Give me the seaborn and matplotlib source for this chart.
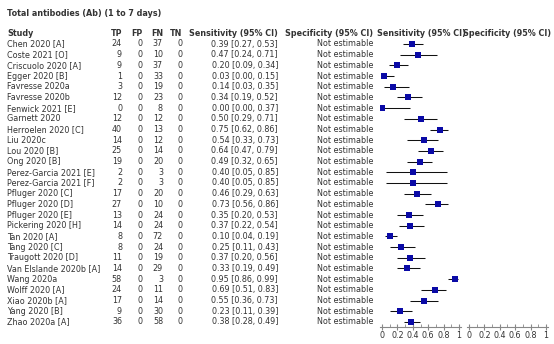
import matplotlib
matplotlib.use("Agg")
import matplotlib.pyplot as plt
import seaborn as sns
import pandas as pd
from matplotlib.ticker import MultipleLocator

studies = ["Chen 2020 [A]", "Coste 2021 [O]", "Criscuolo 2020 [A]", "Egger 2020 [B]",
           "Favresse 2020a", "Favresse 2020b", "Fenwick 2021 [E]", "Garnett 2020",
           "Herroelen 2020 [C]", "Liu 2020c", "Lou 2020 [B]", "Ong 2020 [B]",
           "Perez-Garcia 2021 [E]", "Perez-Garcia 2021 [F]", "Pfluger 2020 [C]",
           "Pfluger 2020 [D]", "Pfluger 2020 [E]", "Pickering 2020 [H]", "Tan 2020 [A]",
           "Tang 2020 [C]", "Traugott 2020 [D]", "Van Elslande 2020b [A]", "Wang 2020a",
           "Wolff 2020 [A]", "Xiao 2020b [A]", "Yang 2020 [B]", "Zhao 2020a [A]"]
tp = [24, 9, 9, 1, 3, 12, 0, 12, 40, 14, 25, 19, 2, 2, 17, 27, 13, 14, 8, 8, 11, 14, 58, 24, 17, 9, 36]
fp = [0] * 27
fn = [37, 10, 37, 33, 19, 23, 8, 12, 13, 12, 14, 20, 3, 3, 20, 10, 24, 24, 72, 24, 19, 29, 3, 11, 14, 30, 58]
tn = [0] * 27
sens = [0.39, 0.47, 0.20, 0.03, 0.14, 0.34, 0.00, 0.50, 0.75, 0.54, 0.64, 0.49, 0.40, 0.40,
        0.46, 0.73, 0.35, 0.37, 0.10, 0.25, 0.37, 0.33, 0.95, 0.69, 0.55, 0.23, 0.38]
sens_lo = [0.27, 0.24, 0.09, 0.00, 0.03, 0.19, 0.00, 0.29, 0.62, 0.33, 0.47, 0.32, 0.05, 0.05,
           0.29, 0.56, 0.20, 0.22, 0.04, 0.11, 0.20, 0.19, 0.86, 0.51, 0.36, 0.11, 0.28]
sens_hi = [0.53, 0.71, 0.34, 0.15, 0.35, 0.52, 0.37, 0.71, 0.86, 0.73, 0.79, 0.65, 0.85, 0.85,
           0.63, 0.86, 0.53, 0.54, 0.19, 0.43, 0.56, 0.49, 0.99, 0.83, 0.73, 0.39, 0.49]
title = "Total antibodies (Ab) (1 to 7 days)"

df = pd.DataFrame({"study": studies, "TP": tp, "FP": fp, "FN": fn, "TN": tn,
                   "sens": sens, "lo": sens_lo, "hi": sens_hi})
df["row"] = range(len(df))

W, H = 554, 344
fig = plt.figure(figsize=(W / 100, H / 100), dpi=100)
txt = "#333333"
fs = 5.8

def px(x, y):
    return x / W, 1 - y / H

row0, dy = 44, 10.69

fig.text(*px(7, 13), title, fontsize=fs, fontweight="bold", color=txt, va="center", ha="left")
heads = [(7, "Study", "left"), (122, "TP", "right"), (143, "FP", "right"), (163, "FN", "right"),
         (182, "TN", "right"), (278, "Sensitivity (95% CI)", "right"),
         (373, "Specificity (95% CI)", "right"), (377, "Sensitivity (95% CI)", "left"),
         (463, "Specificity (95% CI)", "left")]
for x, s, ha in heads:
    fig.text(*px(x, 33), s, fontsize=fs, fontweight="bold", color=txt, va="center", ha=ha)

for i, r in df.iterrows():
    y = row0 + dy * i
    fig.text(*px(7, y), r["study"], fontsize=fs, color=txt, va="center", ha="left")
    for x, c in [(122, "TP"), (143, "FP"), (163, "FN"), (182, "TN")]:
        fig.text(*px(x, y), str(r[c]), fontsize=fs, color=txt, va="center", ha="right")
    fig.text(*px(278, y), f"{r['sens']:.2f} [{r['lo']:.2f}, {r['hi']:.2f}]",
             fontsize=fs, color=txt, va="center", ha="right")
    fig.text(*px(373, y), "Not estimable", fontsize=fs, color=txt, va="center", ha="right")

# forest axes: data 0..1 maps to pixel span
top_px, bot_px = 38, 327
ylim = ((bot_px - row0) / dy, (top_px - row0) / dy)

def forest_axes(x0, x1):
    span = x1 - x0
    left = x0 - 0.02 * span
    right = x1 + 0.03 * span
    ax = fig.add_axes([left / W, 1 - bot_px / H, (right - left) / W, (bot_px - top_px) / H])
    ax.set_xlim(-0.02, 1.03)
    ax.set_ylim(*ylim)
    ax.patch.set_alpha(0)
    for s in ["top", "left", "right"]:
        ax.spines[s].set_visible(False)
    ax.spines["bottom"].set_color("#888888")
    ax.spines["bottom"].set_linewidth(0.8)
    ax.set_yticks([])
    ax.xaxis.set_major_locator(MultipleLocator(0.2))
    ax.xaxis.set_minor_locator(MultipleLocator(0.1))
    ax.set_xticks([0, 0.2, 0.4, 0.6, 0.8, 1.0])
    ax.set_xticklabels(["0", "0.2", "0.4", "0.6", "0.8", "1"])
    ax.tick_params(axis="x", which="major", direction="inout", length=5, width=0.8,
                   color="#888888", labelsize=fs, labelcolor=txt, pad=0.5)
    ax.tick_params(axis="x", which="minor", direction="in", length=2, width=0.6, color="#888888")
    ax.set_xlabel("")
    ax.set_ylabel("")
    return ax

ax1 = forest_axes(382, 459)
ax1.hlines(df["row"], df["lo"], df["hi"], color="#111111", linewidth=0.75)
sns.scatterplot(data=df, x="sens", y="row", ax=ax1, marker="s", s=16, color="#0a0aa6",
                edgecolor="#0a0aa6", linewidth=0, zorder=3, legend=False)
ax1.set_xlabel("")
ax1.set_ylabel("")

ax2 = forest_axes(469, 546)

fig.savefig("out.png", dpi=100)
